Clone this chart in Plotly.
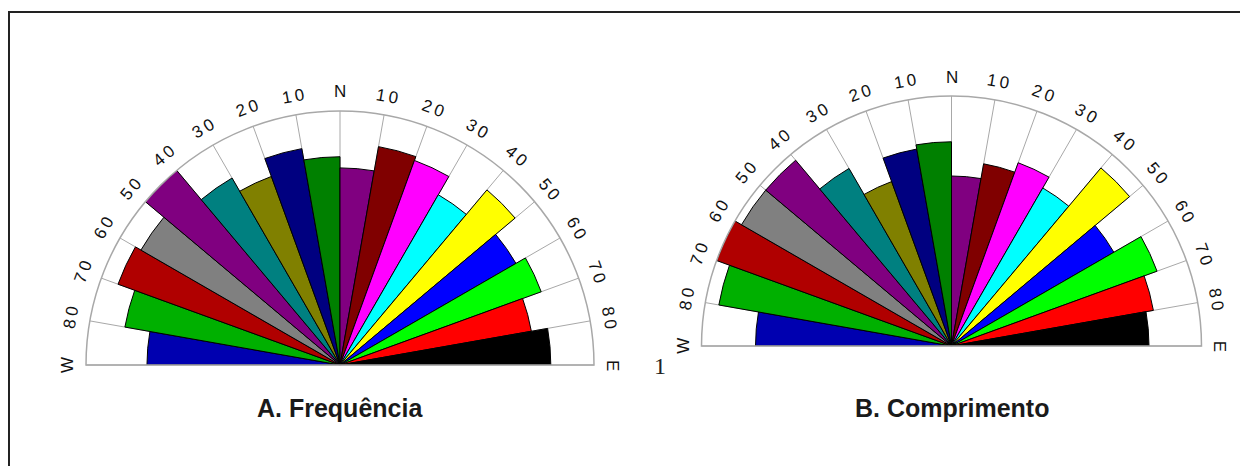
import math
import plotly.graph_objects as go

# ---------------- data ----------------
# sector centres (degrees from North, clockwise; W = -90, E = +90)
sector_centers = [-85, -75, -65, -55, -45, -35, -25, -15, -5,
                  5, 15, 25, 35, 45, 55, 65, 75, 85]
sector_width = 10
sector_colors = ["#0000B0", "#00B000", "#B00000", "#808080", "#800080",
                 "#008080", "#808000", "#000080", "#008000",
                 "#800080", "#800000", "#FF00FF", "#00FFFF", "#FFFF00",
                 "#0000FF", "#00FF00", "#FF0000", "#000000"]

# petal radius relative to the outer ring (outer ring = 1)
frequencia = [0.76, 0.86, 0.93, 0.905, 1.00, 0.85, 0.79, 0.865, 0.82,
              0.776, 0.873, 0.857, 0.774, 0.90, 0.80, 0.843, 0.765, 0.83]
comprimento = [0.784, 0.945, 1.00, 0.97, 0.97, 0.82, 0.70, 0.80, 0.817,
               0.68, 0.74, 0.78, 0.73, 0.93, 0.75, 0.875, 0.82, 0.79]

tick_angles = list(range(-90, 91, 10))
tick_labels = ["W", "80", "70", "60", "50", "40", "30", "20", "10", "N",
               "10", "20", "30", "40", "50", "60", "70", "80", "E"]

titles = ["A. Frequência", "B. Comprimento"]

# ---------------- layout geometry (page pixels) ----------------
PAGE_W, PAGE_H = 1248, 466
OFF = 8                      # default body margin of the html page
W, H = PAGE_W - OFF, PAGE_H - OFF
panels = [dict(cx=340, cy=365, R=254), dict(cx=951.5, cy=346, R=250)]


def fx(px):
    return (px - OFF) / W


def fy(py):
    return 1 - (py - OFF) / H


def domain_of(p):
    return dict(x=[fx(p["cx"] - p["R"]), fx(p["cx"] + p["R"])],
                y=[fy(p["cy"]), fy(p["cy"] - p["R"])])


def polar_paper(p, theta, rfrac):
    t = math.radians(theta)
    return (fx(p["cx"] + rfrac * p["R"] * math.sin(t)),
            fy(p["cy"] - rfrac * p["R"] * math.cos(t)))


fig = go.Figure()
for i, vals in enumerate([frequencia, comprimento]):
    fig.add_trace(go.Barpolar(
        r=vals, theta=sector_centers, width=[sector_width] * len(vals),
        marker=dict(color=sector_colors, line=dict(color="#000000", width=1)),
        subplot="polar" if i == 0 else "polar2",
        hoverinfo="skip", showlegend=False))

polar_common = dict(
    sector=[0, 180], bgcolor="white",
    angularaxis=dict(rotation=90, direction="clockwise", tickmode="array",
                     tickvals=tick_angles, showticklabels=False, ticks="",
                     showgrid=True, gridcolor="#A8A8A8", gridwidth=1.2,
                     showline=True, linecolor="#A8A8A8", linewidth=1.5),
    radialaxis=dict(range=[0, 1], showgrid=False, showticklabels=False,
                    ticks="", showline=False),
)

annotations = []
for p, title in zip(panels, titles):
    for ang, lab in zip(tick_angles, tick_labels):
        x, y = polar_paper(p, ang, 1.075)
        annotations.append(dict(
            x=x, y=y, xref="paper", yref="paper",
            text="\u2009".join(lab), showarrow=False,
            textangle=ang, xanchor="center", yanchor="middle",
            font=dict(family="Liberation Sans, Arial, sans-serif", size=17,
                      color="#111111")))
    annotations.append(dict(
        x=fx(p["cx"]), y=fy(408), xref="paper", yref="paper",
        text="<b>%s</b>" % title, showarrow=False, xanchor="center",
        yanchor="middle",
        font=dict(family="Liberation Sans, Arial, sans-serif", size=25,
                  color="#1a1a1a")))

annotations.append(dict(
    x=fx(660), y=fy(366), xref="paper", yref="paper", text="1",
    showarrow=False, xanchor="center", yanchor="middle",
    font=dict(family="Liberation Serif, Times New Roman, serif", size=24,
              color="#222222")))

shapes = [
    dict(type="line", xref="paper", yref="paper", x0=fx(8), x1=1,
         y0=fy(12), y1=fy(12), line=dict(color="#222222", width=2)),
    dict(type="line", xref="paper", yref="paper", x0=fx(8) + 0.0008,
         x1=fx(8) + 0.0008, y0=0, y1=fy(12),
         line=dict(color="#222222", width=2)),
]

fig.update_layout(
    width=W, height=H, margin=dict(l=0, r=0, t=0, b=0),
    paper_bgcolor="white", plot_bgcolor="white", showlegend=False,
    polar=dict(domain=domain_of(panels[0]), **polar_common),
    polar2=dict(domain=domain_of(panels[1]), **polar_common),
    annotations=annotations, shapes=shapes,
)

fig.write_html("out.html")
